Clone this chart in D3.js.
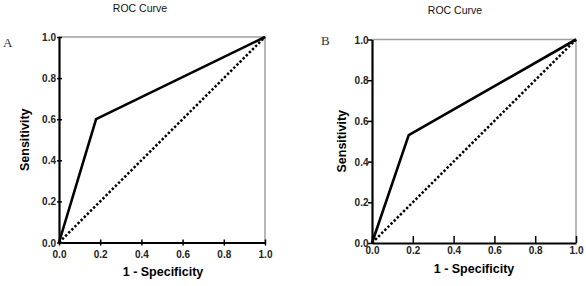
<!DOCTYPE html>
<html>
<head>
<meta charset="utf-8">
<script src="https://cdn.jsdelivr.net/npm/d3@7"></script>
<style>
  html, body { margin: 0; padding: 0; background: #fff; }
  svg { display: block; }
  text { font-family: "Liberation Sans", Arial, sans-serif; }
</style>
</head>
<body>
<svg id="chart" width="586" height="286"></svg>
<script>
// Data
const panelLabels = ["A", "B"];
const titles = ["ROC Curve", "ROC Curve"];
const fprA = [0, 0.18, 1.0];
const tprA = [0, 0.60, 1.0];
const fprB = [0, 0.18, 1.0];
const tprB = [0, 0.53, 1.0];
const refX = [0, 1];
const refY = [0, 1];
const tickValues = [0, 0.2, 0.4, 0.6, 0.8, 1.0];
const tickLabels = ["0.0", "0.2", "0.4", "0.6", "0.8", "1.0"];
const xTitle = "1 - Specificity";
const yTitle = "Sensitivity";

const svg = d3.select("#chart");

const panels = [
  { label: panelLabels[0], title: titles[0], fpr: fprA, tpr: tprA,
    left: 59, right: 265, top: 37, bottom: 242.5,
    titleX: 140, titleY: 12, labX: 3, labY: 47,
    xTickUp: 3, xTickDown: 3, yTickIn: 3, yTickOut: 2,
    xLabelY: 257.5, yLabelX: 56, xTitleX: 163, xTitleY: 276, yTitleX: 29 },
  { label: panelLabels[1], title: titles[1], fpr: fprB, tpr: tprB,
    left: 372, right: 576, top: 39.5, bottom: 243,
    titleX: 455, titleY: 14, labX: 321, labY: 45,
    xTickUp: 7, xTickDown: 0, yTickIn: 0, yTickOut: 4,
    xLabelY: 253.5, yLabelX: 368.5, xTitleX: 474, xTitleY: 272.5, yTitleX: 346 }
];

panels.forEach(p => {
  const x = d3.scaleLinear().domain([0, 1]).range([p.left, p.right]);
  const y = d3.scaleLinear().domain([0, 1]).range([p.bottom, p.top]);
  const g = svg.append("g");

  // title
  g.append("text").attr("x", p.titleX).attr("y", p.titleY)
    .attr("text-anchor", "middle").attr("font-size", 10.5).attr("fill", "#111")
    .text(p.title);

  // panel letter
  g.append("text").attr("x", p.labX).attr("y", p.labY)
    .attr("font-size", 13).attr("fill", "#333")
    .style("font-family", "'Liberation Serif', 'DejaVu Serif', serif")
    .text(p.label);

  // gray top/right frame
  g.append("path")
    .attr("d", `M${x(0)},${y(1)}H${x(1)}V${y(0)}`)
    .attr("fill", "none").attr("stroke", "#a0a0a0").attr("stroke-width", 1.5);

  // reference diagonal (dotted)
  const line = d3.line().x(d => x(d[0])).y(d => y(d[1]));
  g.append("path")
    .attr("d", line(d3.zip(refX, refY)))
    .attr("fill", "none").attr("stroke", "#000").attr("stroke-width", 2.5)
    .attr("stroke-dasharray", "2.4,2");

  // ROC curve
  g.append("path")
    .attr("d", line(d3.zip(p.fpr, p.tpr)))
    .attr("fill", "none").attr("stroke", "#000").attr("stroke-width", 2.6)
    .attr("stroke-linejoin", "miter");

  // x axis
  const xAxis = d3.axisBottom(x).tickValues(tickValues)
    .tickFormat((d, i) => tickLabels[i]).tickSize(0).tickPadding(0);
  const gx = g.append("g").attr("transform", `translate(0,${p.bottom})`).call(xAxis);
  gx.select(".domain").attr("stroke", "#000").attr("stroke-width", 2.2);
  gx.selectAll(".tick line")
    .attr("y1", -p.xTickUp).attr("y2", p.xTickDown)
    .attr("stroke", "#000").attr("stroke-width", 1.5);
  gx.selectAll(".tick text")
    .attr("y", p.xLabelY - p.bottom).attr("dy", 0)
    .attr("font-size", 10).attr("font-weight", "bold").attr("fill", "#222")
    .style("font-family", "'Liberation Sans', Arial, sans-serif");

  // y axis
  const yAxis = d3.axisLeft(y).tickValues(tickValues)
    .tickFormat((d, i) => tickLabels[i]).tickSize(0).tickPadding(0);
  const gy = g.append("g").attr("transform", `translate(${p.left},0)`).call(yAxis);
  gy.select(".domain").attr("stroke", "#000").attr("stroke-width", 2.2);
  gy.selectAll(".tick line")
    .attr("x1", -p.yTickOut).attr("x2", p.yTickIn)
    .attr("stroke", "#000").attr("stroke-width", 1.5);
  gy.selectAll(".tick text")
    .attr("x", p.yLabelX - p.left).attr("dy", "0.35em")
    .attr("font-size", 10).attr("font-weight", "bold").attr("fill", "#222")
    .style("font-family", "'Liberation Sans', Arial, sans-serif");

  // axis titles
  g.append("text").attr("x", p.xTitleX).attr("y", p.xTitleY)
    .attr("text-anchor", "middle").attr("font-size", 12.5).attr("font-weight", "bold")
    .attr("fill", "#000").text(xTitle);
  g.append("text")
    .attr("transform", `translate(${p.yTitleX},${(p.top + p.bottom) / 2}) rotate(-90)`)
    .attr("text-anchor", "middle").attr("font-size", 12.5).attr("font-weight", "bold")
    .attr("fill", "#000").text(yTitle);
});
</script>
</body>
</html>
